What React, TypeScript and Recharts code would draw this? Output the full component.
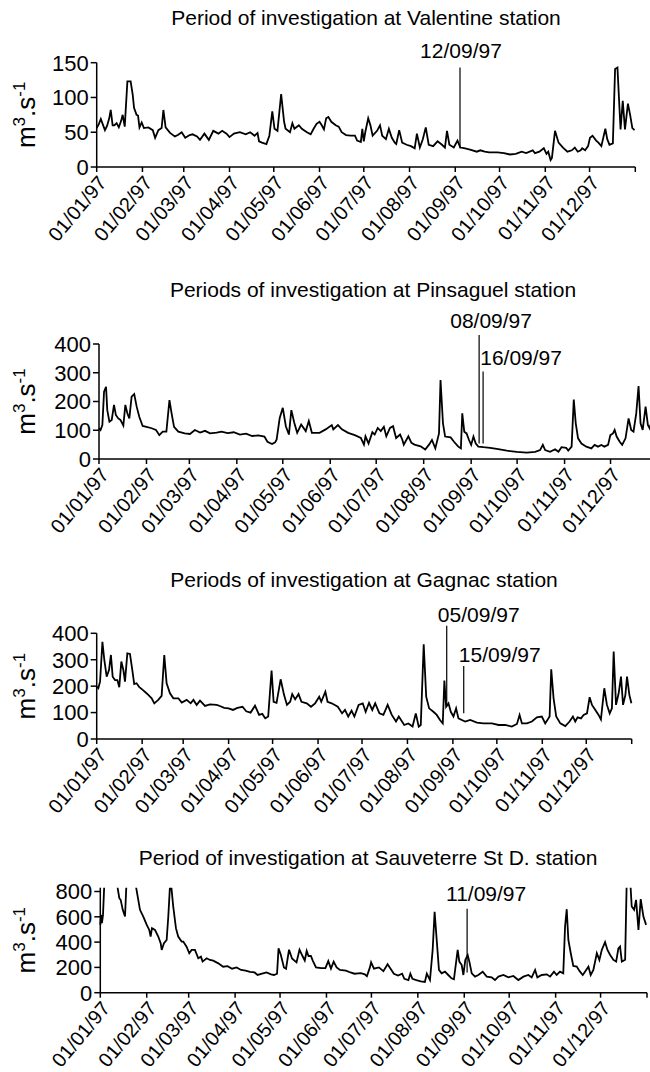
import React from "react";
import { LineChart, Line, XAxis, YAxis, ReferenceLine } from "recharts";

// day of year (0 = 01/01/97), discharge in m3/s
const monthStarts = [0, 31, 59, 90, 120, 151, 181, 212, 243, 273, 304, 334, 365];
const monthLabels = [
  "01/01/97", "01/02/97", "01/03/97", "01/04/97", "01/05/97", "01/06/97",
  "01/07/97", "01/08/97", "01/09/97", "01/10/97", "01/11/97", "01/12/97", "",
];

const valentine: [number, number][] = [
  [0, 56], [1.5, 62], [2.8, 69], [4, 62], [5.6, 53], [7, 59], [8.5, 70], [9.5, 82], [10.8, 60], [12, 60],
  [13.5, 63], [15, 57], [16.5, 66], [17.6, 75], [19, 58], [20.8, 123], [23, 123], [24.4, 104], [25.3, 85],
  [27, 75], [28, 74], [29, 57], [30.5, 64], [32, 56], [35, 57], [38, 53], [39.6, 42], [41.8, 53], [44, 56],
  [45.2, 82], [46.7, 57], [49.7, 49], [53, 44], [55, 46], [57.6, 50], [60, 42], [63, 46], [65, 47], [68, 44],
  [70, 39], [73, 48], [76, 39], [79, 52], [82.5, 48], [85, 52], [88, 48], [90, 43], [93, 48], [97, 50],
  [101, 47], [104, 50], [107, 45], [109, 49], [110, 37], [112, 35], [115, 33], [117, 45], [119, 80],
  [120.5, 55], [122.5, 52], [125, 105], [127, 65], [128, 55], [131, 50], [132.6, 63], [134, 55], [137, 60],
  [139, 55], [142.5, 50], [145, 47], [147, 55], [149, 62], [151, 65], [152.5, 60], [154, 54], [155.5, 70],
  [157, 72], [159, 65], [162, 60], [164, 58], [166, 50], [169, 46], [172, 45], [175, 45], [176.5, 38],
  [179, 36], [180, 55], [181, 37], [182, 50], [184, 70], [185.5, 60], [187, 45], [190, 52], [192, 60],
  [193.5, 45], [196, 40], [198, 55], [200, 42], [202, 35], [203, 33], [205, 53], [207, 35], [210, 32],
  [213, 30], [215.5, 27], [217, 48], [219, 28], [221, 40], [223, 57], [225, 32], [228, 30], [231, 37],
  [234, 32], [236, 28], [237.4, 52], [239, 32], [242, 28], [244.5, 38], [246.4, 28], [249, 27], [253, 25],
  [257.6, 22], [260, 24], [263, 22], [266, 21], [271.6, 21], [276, 20], [280, 18], [284, 19], [288, 22],
  [291, 20], [295.5, 24], [297, 20], [300, 22], [303, 27], [304.8, 19], [306, 22], [307.6, 10], [308.5, 13],
  [310.6, 52], [313, 35], [316, 28], [319, 22], [322, 24], [324, 28], [326, 22], [328, 24], [329, 27],
  [331, 24], [333, 30], [334.3, 42], [336, 45], [338.5, 38], [340, 35], [342, 30], [344.7, 55], [346, 40],
  [347.5, 32], [349.8, 34], [351.3, 141], [352.9, 143], [355, 54], [356.5, 95], [358, 54], [360, 91],
  [361.5, 75], [363, 56], [364.5, 53],
];

const pinsaguel: [number, number][] = [
  [0, 107], [1, 101], [2.2, 118], [3.3, 234], [4.6, 251], [5.4, 170], [6.8, 130], [8.3, 136], [9.8, 188],
  [11, 153], [12.6, 141], [14, 136], [15.9, 116], [17.2, 188], [18.5, 159], [19.8, 141], [21.3, 217],
  [23, 226], [24.6, 182], [26.3, 147], [28.5, 115], [31, 112], [34.4, 107], [37.2, 101], [39.4, 83],
  [41.6, 95], [44, 95], [46, 205], [47.4, 159], [49, 112], [51.8, 95], [56, 89], [59.4, 87], [62.6, 101],
  [66, 92], [69.2, 98], [72.5, 89], [76.8, 92], [80, 95], [84, 90], [88, 93], [92, 85], [96, 88], [100, 80],
  [104, 82], [108, 78], [110, 60], [113, 52], [115, 58], [116, 68], [118, 143], [120, 178], [122, 114],
  [124, 85], [125.6, 170], [127.5, 126], [129.4, 91], [132, 120], [135, 97], [137, 132], [139, 91],
  [144, 91], [148, 103], [152, 118], [153, 103], [156, 118], [158.6, 103], [162.7, 91], [167, 83],
  [171, 73], [173, 50], [174, 79], [176, 54], [178.5, 93], [180, 85], [182, 108], [184, 97], [186, 112],
  [187.6, 79], [190, 108], [192, 114], [194, 73], [196.6, 85], [198, 68], [199, 50], [202, 79], [204, 56],
  [206, 50], [210, 44], [213, 33], [215.5, 50], [217.4, 66], [219.6, 37], [222, 89], [223, 275],
  [224.6, 124], [226, 78], [229.6, 75], [231.8, 60], [234.6, 43], [236.3, 37], [237.2, 159], [238.5, 95],
  [240, 89], [241.6, 66], [243, 49], [244.5, 78], [246, 54], [247.7, 43], [251, 41], [255.4, 39],
  [259.7, 35], [266.3, 29], [272.8, 25], [279.3, 22], [284.8, 25], [288, 31], [289.8, 49], [291.3, 31],
  [294.5, 25], [297.8, 34], [300, 25], [302, 41], [305, 39], [306.4, 29], [308.6, 43], [310, 207],
  [311.3, 124], [312.8, 72], [315, 54], [318.2, 43], [321.5, 37], [323.6, 49], [325.8, 43], [328, 49],
  [330, 43], [332.4, 49], [333.9, 83], [335.6, 89], [336.7, 101], [338, 78], [340, 60], [341.6, 49],
  [343.8, 72], [345.8, 141], [347.5, 101], [349, 95], [350.8, 159], [352.3, 254], [353.6, 124], [355, 101],
  [356.9, 182], [358.4, 118], [359.5, 107], [362, 150], [365, 110],
];

const gagnac: [number, number][] = [
  [0, 198], [1.1, 192], [2.3, 217], [3.9, 368], [5.2, 299], [6.8, 236], [8.4, 261], [9.7, 318], [10.9, 236],
  [12.5, 223], [14.1, 223], [15.4, 196], [16.8, 293], [18.2, 261], [19.3, 217], [20.9, 324], [22.7, 322],
  [24.3, 261], [25.6, 208], [27.2, 211], [29.1, 196], [31.4, 186], [33.6, 175], [35.2, 167], [37.5, 154],
  [39.3, 135], [42, 148], [44.3, 163], [46.1, 318], [47.7, 211], [50, 173], [52.3, 154], [55.7, 154],
  [58, 138], [61.4, 148], [64.1, 135], [66, 148], [68.2, 129], [70.5, 145], [73.9, 125], [77.3, 131],
  [81.9, 129], [84, 125], [87, 118], [90, 116], [93, 110], [96, 118], [99.5, 122], [102, 105], [105, 100],
  [108, 126], [110.8, 91], [113, 95], [115, 78], [117, 85], [119.3, 259], [120.7, 141], [122.7, 137],
  [125.5, 226], [127.8, 167], [129.8, 129], [132, 141], [133.4, 170], [135.4, 150], [137.7, 170],
  [139.7, 141], [143.3, 135], [146.2, 122], [149, 135], [151.8, 160], [153.2, 141], [156, 179], [157.5, 141],
  [160.3, 135], [164.5, 122], [167.4, 97], [169.4, 110], [171.6, 85], [173.9, 107], [175.8, 85],
  [178.7, 129], [181.5, 135], [183.5, 103], [185.8, 137], [188, 110], [190, 135], [192.9, 97], [195.6, 91],
  [198.5, 129], [201.3, 91], [204.2, 66], [206.1, 85], [209.8, 53], [212.6, 59], [215.5, 47], [217.7, 97],
  [219.7, 47], [221.1, 53], [223.1, 358], [224.8, 160], [226.8, 116], [229.7, 103], [232, 91], [234.2, 72],
  [236.1, 59], [237.2, 221], [238.4, 122], [240, 135], [241.6, 103], [243.4, 85], [245.2, 116], [246.8, 78],
  [249.1, 72], [251.4, 66], [254.8, 72], [259.4, 62], [263.9, 59], [269.6, 59], [274.2, 53], [278.7, 53],
  [283.2, 47], [286.7, 57], [288.5, 91], [290.1, 59], [293.5, 59], [296.9, 66], [300.3, 82], [303.7, 85],
  [306, 59], [309, 85], [310.1, 264], [311.7, 154], [313.5, 85], [316.3, 59], [319.7, 49], [322.6, 66],
  [324.9, 85], [326.5, 66], [328.1, 82], [330.4, 78], [332.2, 91], [334.5, 97], [336.3, 158], [337.9, 129],
  [340.2, 110], [342.4, 91], [344, 74], [346.3, 192], [348.1, 129], [350, 97], [351.5, 116], [352.7, 331],
  [354.3, 129], [356.1, 173], [357.7, 236], [359.1, 129], [360.7, 167], [361.8, 236], [363.4, 167],
  [364.8, 135],
];

const sauveterre: [number, number][] = [
  [0, 536], [0.5, 615], [1.1, 549], [1.8, 615], [3, 950], [6, 1100], [9, 1000], [11.4, 840], [12.7, 747],
  [13.6, 734], [15, 655], [16.5, 602], [17.6, 900], [20, 1100], [23.8, 840], [26.5, 655], [28.7, 602],
  [31, 536], [32.7, 496], [33.6, 444], [34.5, 510], [36.5, 496], [38.7, 444], [40.3, 391], [41, 338],
  [42.5, 391], [44.3, 417], [45.4, 602], [46.5, 840], [47.4, 840], [48.7, 681], [50.5, 510], [52, 444],
  [54.3, 404], [55.4, 404], [57.6, 364], [59.4, 312], [61, 338], [63.2, 338], [65.4, 272], [67.2, 285],
  [68.3, 246], [71, 272], [73.2, 259], [75.4, 253], [78.8, 232], [82, 205], [85, 210], [88, 190], [91, 200],
  [94, 180], [97, 175], [100, 165], [103, 160], [105, 140], [108, 150], [111, 160], [114, 145], [116, 140],
  [118, 150], [119, 350], [120.5, 300], [122.6, 200], [124, 190], [126, 340], [128, 270], [131, 240],
  [133, 340], [135, 290], [136.5, 255], [137.8, 330], [139, 290], [140.6, 290], [142, 250], [144, 200],
  [147.5, 195], [150.3, 195], [152.2, 250], [154, 190], [155.8, 245], [157.8, 200], [160, 180], [164, 175],
  [167, 160], [169.7, 150], [174, 155], [176.6, 145], [178, 130], [180, 200], [180.8, 240], [182.7, 190],
  [186, 200], [189, 170], [191.8, 225], [193.8, 190], [196, 150], [198.8, 135], [201.5, 150], [203, 110],
  [205.7, 100], [207, 150], [208.4, 110], [211, 100], [214, 90], [216.7, 85], [218, 150], [220.1, 100],
  [221.9, 338], [223.2, 640], [224.6, 417], [226.1, 180], [227.9, 153], [230.1, 166], [232.3, 140],
  [234.5, 114], [236.1, 106], [238.6, 338], [239.7, 246], [241.3, 219], [242.4, 140], [243.7, 259],
  [245.3, 298], [246.4, 246], [248, 153], [250.2, 127], [252.4, 140], [255.3, 166], [258, 127], [261.3, 121],
  [263.5, 100], [265.8, 127], [269.1, 140], [272.4, 121], [275.8, 132], [279.1, 100], [282.5, 127],
  [285.8, 140], [288, 121], [290.3, 180], [291.8, 121], [294.7, 140], [298.1, 145], [300.3, 127],
  [302.9, 166], [304.7, 140], [306.9, 166], [309.1, 153], [310.3, 523], [311.4, 660], [312.5, 417],
  [314.1, 312], [315.8, 211], [318.1, 206], [319.9, 172], [322.1, 140], [323.6, 166], [325.9, 206],
  [327.4, 140], [329.2, 180], [331.5, 312], [333.2, 259], [334.8, 338], [337, 400], [338.6, 338],
  [340.4, 298], [342.6, 259], [344.4, 246], [345.9, 350], [347, 364], [348.2, 246], [350.4, 260],
  [351.5, 910], [353.7, 905], [354.8, 681], [356.4, 655], [357.7, 734], [359.3, 496], [360.8, 740],
  [362.6, 602], [364.4, 536],
];

// marked sampling dates: label, day, top and bottom of the marker (m3/s)
const valentineMarks = [{ label: "12/09/97", day: 246.2, top: 143, bottom: 27 }];
const pinsaguelMarks = [
  { label: "08/09/97", day: 248.2, top: 431, bottom: 54 },
  { label: "16/09/97", day: 250.8, top: 304, bottom: 54 },
];
const gagnacMarks = [
  { label: "05/09/97", day: 238.8, top: 429, bottom: 122 },
  { label: "15/09/97", day: 250.4, top: 276, bottom: 97 },
];
const sauveterreMarks = [{ label: "11/09/97", day: 244.9, top: 663, bottom: 160 }];

const FONT = "'Liberation Sans', Arial, Helvetica, sans-serif";

const panels = [
  {
    title: "Period of investigation at Valentine station",
    points: valentine, marks: valentineMarks, yMax: 150, yTicks: [0, 50, 100, 150],
    top: 0, width: 650, height: 270, margin: { top: 62.7, right: 14.7, left: 36.7, bottom: 43 },
    titleX: 366, titleY: 25, labelOffsets: [[1, -10]],
  },
  {
    title: "Periods of investigation at Pinsaguel station",
    points: pinsaguel, marks: pinsaguelMarks, yMax: 400, yTicks: [0, 100, 200, 300, 400],
    top: 270, width: 680, height: 275, margin: { top: 74, right: 22, left: 39, bottom: 26 },
    titleX: 373, titleY: 27, labelOffsets: [[12, -7], [38, -7]],
  },
  {
    title: "Periods of investigation at Gagnac station",
    points: gagnac, marks: gagnacMarks, yMax: 400, yTicks: [0, 100, 200, 300, 400],
    top: 545, width: 650, height: 285, margin: { top: 88.3, right: 18.3, left: 36.7, bottom: 31 },
    titleX: 364, titleY: 42, labelOffsets: [[32, -4], [36, -4]],
  },
  {
    title: "Period of investigation at Sauveterre St D. station",
    points: sauveterre, marks: sauveterreMarks, yMax: 830, yTicks: [0, 200, 400, 600, 800],
    top: 830, width: 650, height: 242, margin: { top: 57.7, right: 3, left: 40.3, bottom: 19.3 },
    titleX: 368, titleY: 35, labelOffsets: [[19, -8]],
  },
];

const tickLabel = (v: number) => monthLabels[monthStarts.indexOf(v)] ?? "";

function UnitLabel(props: any) {
  const vb = props.viewBox;
  const cy = vb.y + vb.height / 2;
  const x = 35;
  return (
    <text
      x={x}
      y={cy}
      transform={`rotate(-90, ${x}, ${cy})`}
      textAnchor="middle"
      fontFamily={FONT}
      fontSize={26}
      fill="#000"
    >
      m<tspan dy={-10} fontSize={17}>3</tspan>
      <tspan dy={10}>.s</tspan>
      <tspan dy={-10} fontSize={17}>-1</tspan>
    </text>
  );
}

function Panel({ p }: { p: (typeof panels)[number] }) {
  const data = p.points.map(([day, q]) => ({ day, q }));
  return (
    <div style={{ position: "absolute", left: 0, top: p.top }}>
      <LineChart width={p.width} height={p.height} data={data} margin={p.margin}>
        <text x={p.titleX} y={p.titleY} textAnchor="middle" fontFamily={FONT} fontSize={21} fill="#000">
          {p.title}
        </text>
        <XAxis
          dataKey="day"
          type="number"
          domain={[0, 365]}
          ticks={monthStarts}
          interval={0}
          tickFormatter={tickLabel}
          height={60}
          tickSize={5}
          tickMargin={2}
          axisLine={{ stroke: "#000", strokeWidth: 1.5 }}
          tickLine={{ stroke: "#000", strokeWidth: 1.5 }}
          tick={{ angle: -50, textAnchor: "end", fontSize: 20, fontFamily: FONT, fill: "#000" }}
        />
        <YAxis
          type="number"
          domain={[0, p.yMax]}
          ticks={p.yTicks}
          interval={0}
          allowDataOverflow
          width={60}
          tickSize={6}
          tickMargin={2}
          axisLine={{ stroke: "#000", strokeWidth: 1.5 }}
          tickLine={{ stroke: "#000", strokeWidth: 1.5 }}
          tick={{ fontSize: 22, fontFamily: FONT, fill: "#000" }}
          label={(props: any) => <UnitLabel {...props} />}
        />
        <Line
          type="linear"
          dataKey="q"
          stroke="#000"
          strokeWidth={1.8}
          dot={false}
          isAnimationActive={false}
        />
        {p.marks.map((m, i) => (
          <ReferenceLine
            key={m.label}
            segment={[{ x: m.day, y: m.top }, { x: m.day, y: m.bottom }]}
            ifOverflow="visible"
            stroke="#000"
            strokeWidth={1.2}
            label={(props: any) => (
              <text
                x={props.viewBox.x + p.labelOffsets[i][0]}
                y={props.viewBox.y + p.labelOffsets[i][1]}
                textAnchor="middle"
                fontFamily={FONT}
                fontSize={21}
                fill="#000"
              >
                {m.label}
              </text>
            )}
          />
        ))}
      </LineChart>
    </div>
  );
}

export default function App() {
  return (
    <div
      style={{
        position: "absolute",
        left: 0,
        top: 0,
        width: 650,
        height: 1072,
        overflow: "hidden",
        background: "#fff",
      }}
    >
      {panels.map((p) => (
        <Panel key={p.title} p={p} />
      ))}
    </div>
  );
}
